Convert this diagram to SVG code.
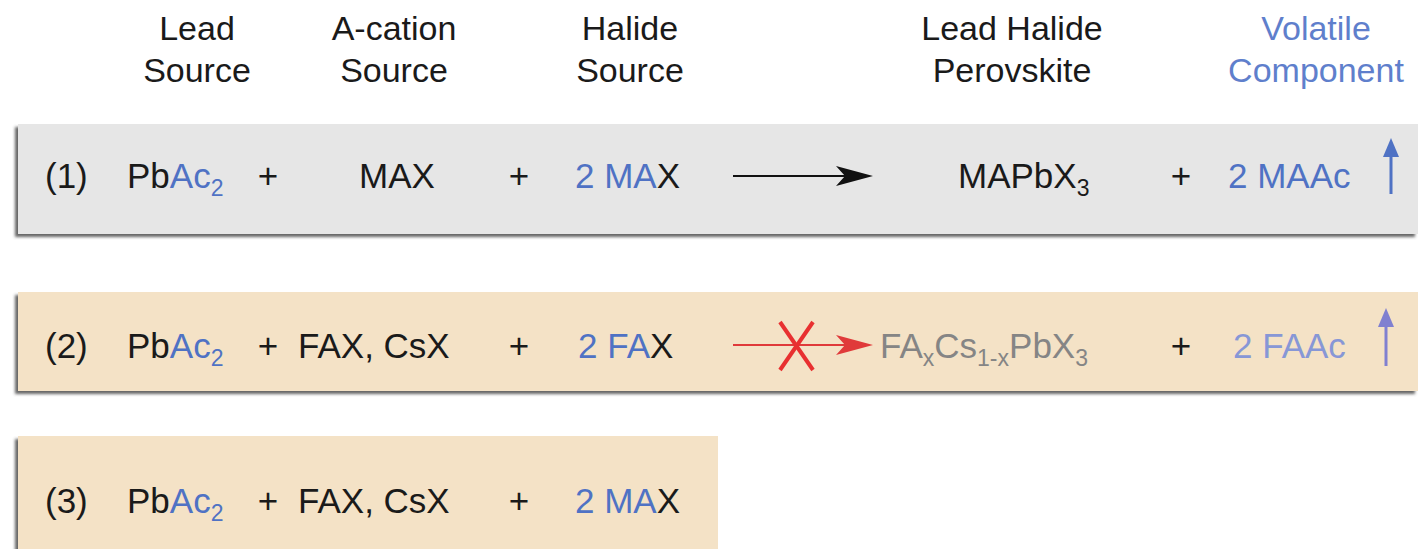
<svg xmlns="http://www.w3.org/2000/svg" width="1422" height="549" viewBox="0 0 1422 549">
<defs>
<filter id="sh" x="-5%" y="-20%" width="110%" height="150%">
<feDropShadow dx="-3" dy="3" stdDeviation="1.5" flood-color="#555" flood-opacity="0.9"/>
</filter>
</defs>
<style>
text{font-family:"Liberation Sans",Arial,sans-serif;font-size:35px;fill:#1a1a1a}
.hd{text-anchor:middle;font-size:34px}
.b{fill:#4f72c4}
.lb{fill:#8797d6}
.g{fill:#858585}
.sub{font-size:23px}
.m{text-anchor:middle}
</style>
<rect width="1422" height="549" fill="#ffffff"/>
<g id="headers">
<text class="hd" x="197" y="40">Lead</text>
<text class="hd" x="197" y="82">Source</text>
<text class="hd" x="394" y="40">A-cation</text>
<text class="hd" x="394" y="82">Source</text>
<text class="hd" x="630" y="40">Halide</text>
<text class="hd" x="630" y="82">Source</text>
<text class="hd" x="1012" y="40">Lead Halide</text>
<text class="hd" x="1012" y="82">Perovskite</text>
<text class="hd" x="1316" y="40" style="fill:#5f7fcc">Volatile</text>
<text class="hd" x="1316" y="82" style="fill:#5f7fcc">Component</text>
</g>
<g id="row1">
<rect x="18" y="124" width="1400" height="110" fill="#e6e6e6" filter="url(#sh)"/>
<text x="45" y="188">(1)</text>
<text x="127" y="188">Pb<tspan class="b">Ac<tspan class="sub" dy="8">2</tspan></tspan></text>
<text class="m" x="268" y="188">+</text>
<text class="m" x="397" y="188">MAX</text>
<text class="m" x="519" y="188">+</text>
<text x="575" y="188"><tspan class="b">2 MA</tspan>X</text>
<text x="958" y="188">MAPbX<tspan class="sub" dy="8">3</tspan></text>
<text class="m" x="1181" y="188">+</text>
<text class="b" x="1228" y="188">2 MAAc</text>
</g>
<g id="row2">
<rect x="18" y="292" width="1400" height="99" fill="#f4e2c6" filter="url(#sh)"/>
<text x="45" y="358">(2)</text>
<text x="127" y="358">Pb<tspan class="b">Ac<tspan class="sub" dy="8">2</tspan></tspan></text>
<text class="m" x="268" y="358">+</text>
<text x="298" y="358">FAX, CsX</text>
<text class="m" x="519" y="358">+</text>
<text x="578" y="358"><tspan class="b">2 FA</tspan>X</text>
<text class="g" x="880" y="358">FA<tspan class="sub" dy="8">x</tspan><tspan dy="-8">Cs</tspan><tspan class="sub" dy="8">1-x</tspan><tspan dy="-8">PbX</tspan><tspan class="sub" dy="8">3</tspan></text>
<text class="m" x="1181" y="358">+</text>
<text class="lb" x="1233" y="358">2 FAAc</text>
</g>
<g id="row3">
<rect x="18" y="436" width="700" height="117" fill="#f4e2c6" filter="url(#sh)"/>
<text x="45" y="513">(3)</text>
<text x="127" y="513">Pb<tspan class="b">Ac<tspan class="sub" dy="8">2</tspan></tspan></text>
<text class="m" x="268" y="513">+</text>
<text x="298" y="513">FAX, CsX</text>
<text class="m" x="519" y="513">+</text>
<text x="575" y="513"><tspan class="b">2 MA</tspan>X</text>
</g>
<g id="connectors">
<line x1="733" y1="176" x2="850" y2="176" stroke="#111" stroke-width="2"/>
<polygon points="873,176 836,166 845,176 836,186" fill="#111"/>
<line x1="733" y1="345" x2="850" y2="345" stroke="#e03a3a" stroke-width="2"/>
<polygon points="873,345 836,335 845,345 836,355" fill="#e03a3a"/>
<line x1="780" y1="322" x2="813" y2="370" stroke="#e83030" stroke-width="4"/>
<line x1="813" y1="322" x2="780" y2="370" stroke="#e83030" stroke-width="4"/>
<line x1="1391" y1="194" x2="1391" y2="150" stroke="#4f72c4" stroke-width="3"/>
<polygon points="1391,138 1383,157 1399,157" fill="#4f72c4"/>
<line x1="1386" y1="366" x2="1386" y2="320" stroke="#8080d0" stroke-width="3"/>
<polygon points="1386,308 1378,327 1394,327" fill="#8080d0"/>
</g>
</svg>
